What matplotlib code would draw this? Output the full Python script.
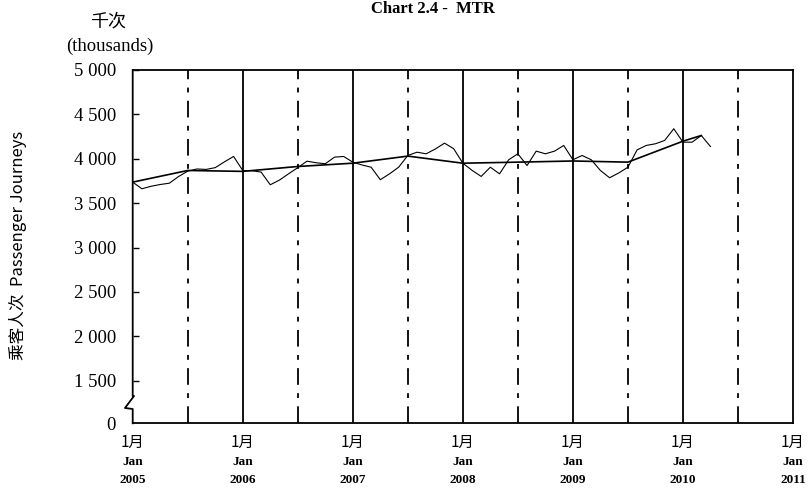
import matplotlib
matplotlib.use("Agg")
import matplotlib.pyplot as plt
from matplotlib.lines import Line2D

plt.rcParams['lines.scale_dashes'] = False

# ---- data ----
years = [2005, 2006, 2007, 2008, 2009, 2010, 2011]
month_cn = "1月"
month_en = "Jan"

monthly = [3737, 3662, 3690, 3710, 3725, 3800, 3860, 3885, 3880, 3900, 3965, 4026,
           3868, 3865, 3850, 3707, 3760, 3831, 3900, 3973, 3955, 3944, 4018, 4026,
           3962, 3930, 3905, 3764, 3830, 3905, 4037, 4074, 4056, 4110, 4176, 4113,
           3950, 3870, 3801, 3905, 3830, 3989, 4056, 3924, 4086, 4056, 4086, 4150,
           3989, 4037, 3989, 3868, 3786, 3840, 3905, 4100, 4150, 4169, 4206, 4338,
           4187, 4187, 4262, 4138]
trend_months = [0, 6, 12, 18, 24, 30, 36, 42, 48, 54, 60, 62]
trend_values = [3737, 3868, 3858, 3913, 3950, 4030, 3950, 3962, 3975, 3962, 4198, 4262]

ytick_values = [1020, 1500, 2000, 2500, 3000, 3500, 4000, 4500, 5000]
ytick_labels = ["0", "1 500", "2 000", "2 500", "3 000", "3 500", "4 000", "4 500", "5 000"]

title = "Chart 2.4 -  MTR"
unit_cn = "千次"
unit_en = "(thousands)"
ylabel = "乘客人次  Passenger Journeys"

# ---- figure ----
W, H = 812, 494
fig = plt.figure(figsize=(W / 100, H / 100), dpi=100)
ax = fig.add_axes([132.7 / W, 1 - 423.3 / H, (793 - 132.7) / W, (423.3 - 70) / H])

ax.set_xlim(0, 12 * (len(years) - 1))
ax.set_ylim(ytick_values[0], ytick_values[-1])

# vertical grid lines: solid at each January, dash-dot at each July
for i in range(1, len(years) - 1):
    ax.axvline(12 * i, color='black', lw=1.3, zorder=1)
for i in range(len(years) - 1):
    ax.axvline(12 * i + 6, color='black', lw=1.3, linestyle=(0, (12, 6, 3.5, 6)), zorder=1)

months = list(range(len(monthly)))
ax.plot(months, monthly, color='black', lw=0.8, zorder=3)
ax.plot(trend_months, trend_values, color='black', lw=1.2, zorder=3)

# spines
for s in ['top', 'right', 'bottom']:
    ax.spines[s].set_linewidth(1.3)
ax.spines['left'].set_visible(False)
brk = Line2D([0, 0, 0.002, -0.0117, 0, 0], [1, 0.0773, 0.0773, 0.0433, 0.0405, 0],
             transform=ax.transAxes, color='black', lw=1.3, clip_on=False, zorder=5)
ax.add_line(brk)

# y ticks
ax.set_yticks(ytick_values)
ax.set_yticklabels(ytick_labels, family='Liberation Serif', fontsize=13.5)
ax.tick_params(axis='y', direction='in', length=4, width=1, pad=12, left=True)
ax.yaxis.get_major_ticks()[0].tick1line.set_visible(False)

# x ticks
ax.set_xticks([12 * i for i in range(len(years))])
ax.set_xticklabels([])
ax.tick_params(axis='x', length=0)
for i, yr in enumerate(years):
    x = 12 * i
    ax.text(x, -0.055, month_cn, transform=ax.get_xaxis_transform(), ha='center', va='center',
            family=['Noto Sans CJK SC', 'DejaVu Sans'], fontsize=11)
    ax.text(x, -0.11, month_en, transform=ax.get_xaxis_transform(), ha='center', va='center',
            family='Liberation Serif', fontweight='bold', fontsize=9.5)
    ax.text(x, -0.16, str(yr), transform=ax.get_xaxis_transform(), ha='center', va='center',
            family='Liberation Serif', fontweight='bold', fontsize=9.5)

# texts
fig.text(433 / W, 1 - 1 / H, title, ha='center', va='top', family='Liberation Serif',
         fontweight='bold', fontsize=12)
fig.text(108 / W, 1 - 21 / H, unit_cn, ha='center', va='center',
         family=['Noto Sans CJK SC', 'DejaVu Sans'], fontsize=13)
fig.text(110 / W, 1 - 46 / H, unit_en, ha='center', va='center', family='Liberation Serif',
         fontsize=13.5)
fig.text(18 / W, 1 - 245 / H, ylabel, ha='center', va='center', rotation=90,
         family=['Noto Sans CJK SC', 'Liberation Serif'], fontsize=12)

fig.savefig('out.png', dpi=100)
